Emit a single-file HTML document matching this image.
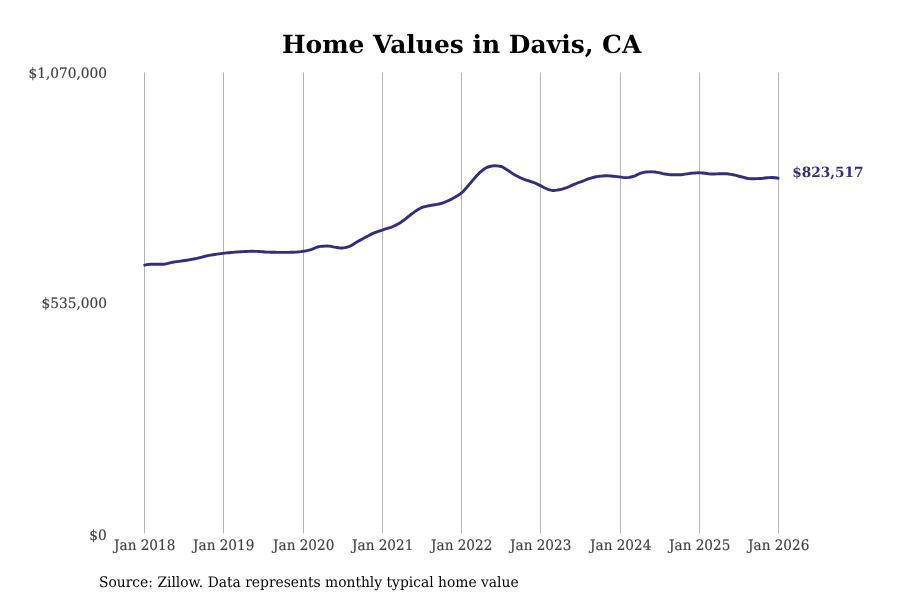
<!DOCTYPE html>
<html lang="en">
<head>
<meta charset="utf-8">
<title>Home Values in Davis, CA</title>
<style>
html,body{margin:0;padding:0;background:#fff;}
body{width:900px;height:600px;overflow:hidden;font-family:"DejaVu Serif","Liberation Serif",serif;}
svg{display:block;will-change:transform;}
svg text{font-family:"DejaVu Serif","Liberation Serif",serif;text-rendering:geometricPrecision;}
.grid rect{fill:#b6b6b6;}
.xt{font-size:13.89px;fill:#404040;stroke:#404040;stroke-width:0.15px;text-anchor:middle;}
.yt{font-size:13.89px;fill:#404040;stroke:#404040;stroke-width:0.15px;text-anchor:end;}
.title{font-size:25px;font-weight:bold;fill:#000;text-anchor:middle;}
.src{font-size:13.89px;fill:#000;}
.end{font-size:13.89px;font-weight:bold;fill:#312e81;}
.curve{fill:none;stroke:#312e81;stroke-width:2.9;stroke-linejoin:round;stroke-linecap:square;}
</style>
</head>
<body>
<svg width="900" height="600" viewBox="0 0 900 600">
<rect x="0" y="0" width="900" height="600" fill="#ffffff"/>
<text class="title" transform="translate(461.60,52.50) scale(0.998,1.0)">Home Values in Davis, CA</text>
<g class="grid">
<rect x="144" y="72.5" width="1" height="461"/>
<rect x="223" y="72.5" width="1" height="461"/>
<rect x="303" y="72.5" width="1" height="461"/>
<rect x="382" y="72.5" width="1" height="461"/>
<rect x="461" y="72.5" width="1" height="461"/>
<rect x="540" y="72.5" width="1" height="461"/>
<rect x="620" y="72.5" width="1" height="461"/>
<rect x="699" y="72.5" width="1" height="461"/>
<rect x="778" y="72.5" width="1" height="461"/>
</g>
<g>
<text class="yt" transform="translate(107.10,77.80) scale(0.99,1.03)">$1,070,000</text>
<text class="yt" transform="translate(107.10,307.60) scale(0.99,1.03)">$535,000</text>
<text class="yt" transform="translate(106.80,539.80) scale(0.99,1.03)">$0</text>
</g>
<g>
<text class="xt" transform="translate(144.70,549.70) scale(0.98,1.045)">Jan 2018</text>
<text class="xt" transform="translate(223.70,549.70) scale(0.98,1.045)">Jan 2019</text>
<text class="xt" transform="translate(303.70,549.70) scale(0.98,1.045)">Jan 2020</text>
<text class="xt" transform="translate(382.70,549.70) scale(0.98,1.045)">Jan 2021</text>
<text class="xt" transform="translate(461.70,549.70) scale(0.98,1.045)">Jan 2022</text>
<text class="xt" transform="translate(540.70,549.70) scale(0.98,1.045)">Jan 2023</text>
<text class="xt" transform="translate(620.70,549.70) scale(0.98,1.045)">Jan 2024</text>
<text class="xt" transform="translate(699.70,549.70) scale(0.98,1.045)">Jan 2025</text>
<text class="xt" transform="translate(778.70,549.70) scale(0.98,1.045)">Jan 2026</text>
</g>
<path class="curve" d="M144.9,265.10 L146.9,264.67 L148.9,264.36 L150.9,264.29 L152.9,264.27 L154.9,264.25 L156.9,264.25 L158.9,264.24 L160.9,264.22 L162.9,264.20 L164.9,264.05 L166.9,263.69 L168.9,263.20 L170.9,262.68 L172.9,262.20 L174.9,261.86 L176.9,261.57 L178.9,261.32 L180.9,261.07 L182.9,260.80 L184.9,260.52 L186.9,260.20 L188.9,259.86 L190.9,259.50 L192.9,259.12 L194.9,258.73 L196.9,258.31 L198.9,257.83 L200.9,257.31 L202.9,256.78 L204.9,256.27 L206.9,255.82 L208.9,255.44 L210.9,255.09 L212.9,254.76 L214.9,254.45 L216.9,254.16 L218.9,253.89 L220.9,253.63 L222.9,253.37 L224.9,253.13 L226.9,252.91 L228.9,252.70 L230.9,252.52 L232.9,252.33 L234.9,252.16 L236.9,252.00 L238.9,251.86 L240.9,251.75 L242.9,251.64 L244.9,251.54 L246.9,251.45 L248.9,251.37 L250.9,251.32 L252.9,251.30 L254.9,251.33 L256.9,251.41 L258.9,251.52 L260.9,251.66 L262.9,251.81 L264.9,251.95 L266.9,252.08 L268.9,252.17 L270.9,252.22 L272.9,252.26 L274.9,252.30 L276.9,252.33 L278.9,252.36 L280.9,252.38 L282.9,252.39 L284.9,252.40 L286.9,252.39 L288.9,252.35 L290.9,252.29 L292.9,252.21 L294.9,252.11 L296.9,252.01 L298.9,251.84 L300.9,251.59 L302.9,251.29 L304.9,250.96 L306.9,250.55 L308.9,250.08 L310.9,249.54 L312.9,248.82 L314.9,248.00 L316.9,247.24 L318.9,246.68 L320.9,246.41 L322.9,246.22 L324.9,246.08 L326.9,246.00 L328.9,246.08 L330.9,246.40 L332.9,246.82 L334.9,247.19 L336.9,247.50 L338.9,247.80 L340.9,247.99 L342.9,247.93 L344.9,247.65 L346.9,247.21 L348.9,246.68 L350.9,245.76 L352.9,244.50 L354.9,243.16 L356.9,241.99 L358.9,240.87 L360.9,239.76 L362.9,238.66 L364.9,237.58 L366.9,236.52 L368.9,235.45 L370.9,234.40 L372.9,233.41 L374.9,232.54 L376.9,231.80 L378.9,231.14 L380.9,230.52 L382.9,229.87 L384.9,229.23 L386.9,228.62 L388.9,227.99 L390.9,227.31 L392.9,226.54 L394.9,225.64 L396.9,224.60 L398.9,223.46 L400.9,222.22 L402.9,220.81 L404.9,219.33 L406.9,217.75 L408.9,216.12 L410.9,214.54 L412.9,213.07 L414.9,211.67 L416.9,210.28 L418.9,209.00 L420.9,207.94 L422.9,207.20 L424.9,206.62 L426.9,206.14 L428.9,205.72 L430.9,205.33 L432.9,205.01 L434.9,204.72 L436.9,204.41 L438.9,204.02 L440.9,203.50 L442.9,202.85 L444.9,202.09 L446.9,201.27 L448.9,200.40 L450.9,199.40 L452.9,198.30 L454.9,197.14 L456.9,195.98 L458.9,194.80 L460.9,193.46 L462.9,191.72 L464.9,189.54 L466.9,187.28 L468.9,184.90 L470.9,182.46 L472.9,180.11 L474.9,177.82 L476.9,175.54 L478.9,173.40 L480.9,171.58 L482.9,169.99 L484.9,168.53 L486.9,167.41 L488.9,166.75 L490.9,166.24 L492.9,165.90 L494.9,165.80 L496.9,165.92 L498.9,166.16 L500.9,166.48 L502.9,167.18 L504.9,168.40 L506.9,169.79 L508.9,171.06 L510.9,172.38 L512.9,173.72 L514.9,174.94 L516.9,176.04 L518.9,177.08 L520.9,178.02 L522.9,178.86 L524.9,179.60 L526.9,180.29 L528.9,180.97 L530.9,181.62 L532.9,182.25 L534.9,182.96 L536.9,183.86 L538.9,184.88 L540.9,185.90 L542.9,186.97 L544.9,188.02 L546.9,188.87 L548.9,189.54 L550.9,190.14 L552.9,190.48 L554.9,190.43 L556.9,190.13 L558.9,189.73 L560.9,189.31 L562.9,188.80 L564.9,188.20 L566.9,187.53 L568.9,186.76 L570.9,185.86 L572.9,184.92 L574.9,184.04 L576.9,183.26 L578.9,182.51 L580.9,181.78 L582.9,181.04 L584.9,180.25 L586.9,179.44 L588.9,178.67 L590.9,178.03 L592.9,177.49 L594.9,177.01 L596.9,176.60 L598.9,176.31 L600.9,176.10 L602.9,175.93 L604.9,175.82 L606.9,175.81 L608.9,175.89 L610.9,176.04 L612.9,176.21 L614.9,176.39 L616.9,176.63 L618.9,176.90 L620.9,177.15 L622.9,177.43 L624.9,177.66 L626.9,177.67 L628.9,177.43 L630.9,177.01 L632.9,176.52 L634.9,175.83 L636.9,174.86 L638.9,173.91 L640.9,173.21 L642.9,172.59 L644.9,172.12 L646.9,171.95 L648.9,171.86 L650.9,171.81 L652.9,171.83 L654.9,172.02 L656.9,172.33 L658.9,172.66 L660.9,173.10 L662.9,173.59 L664.9,173.98 L666.9,174.30 L668.9,174.58 L670.9,174.77 L672.9,174.80 L674.9,174.80 L676.9,174.80 L678.9,174.80 L680.9,174.70 L682.9,174.45 L684.9,174.15 L686.9,173.88 L688.9,173.59 L690.9,173.31 L692.9,173.11 L694.9,172.97 L696.9,172.86 L698.9,172.80 L700.9,172.85 L702.9,173.06 L704.9,173.29 L706.9,173.56 L708.9,173.85 L710.9,174.00 L712.9,173.98 L714.9,173.94 L716.9,173.89 L718.9,173.82 L720.9,173.76 L722.9,173.72 L724.9,173.70 L726.9,173.80 L728.9,174.06 L730.9,174.41 L732.9,174.78 L734.9,175.19 L736.9,175.69 L738.9,176.23 L740.9,176.74 L742.9,177.21 L744.9,177.73 L746.9,178.24 L748.9,178.63 L750.9,178.80 L752.9,178.78 L754.9,178.73 L756.9,178.65 L758.9,178.55 L760.9,178.44 L762.9,178.25 L764.9,178.01 L766.9,177.77 L768.9,177.58 L770.9,177.50 L772.9,177.56 L774.9,177.74 L776.9,178.02 L777.9,178.19"/>
<text class="end" transform="translate(792.30,177.20) scale(0.985,1.02)">$823,517</text>
<text class="src" transform="translate(99.00,586.90) scale(0.998,1.05)">Source: Zillow. Data represents monthly typical home value</text>
</svg>
</body>
</html>
